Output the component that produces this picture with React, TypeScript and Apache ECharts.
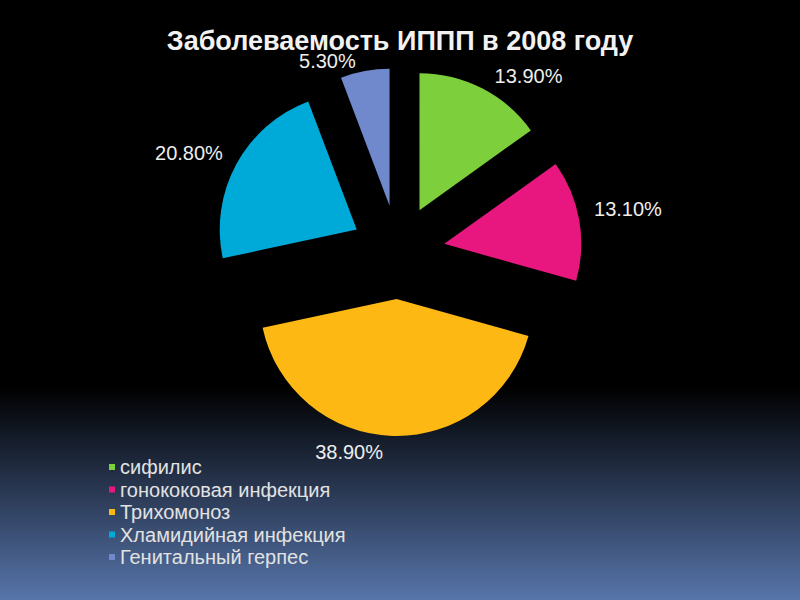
import React, { useEffect, useRef } from "react";
import * as echarts from "echarts";

const categories = [
  "сифилис",
  "гонококовая инфекция",
  "Трихомоноз",
  "Хламидийная инфекция",
  "Генитальный герпес",
];
const values = [13.9, 13.1, 38.9, 20.8, 5.3];
const colors = ["#7dcf3c", "#e8177f", "#fdb813", "#00aad8", "#7088cc"];
const labelShifts = [
  [2, -2],
  [-2, -9],
  [-4, 4],
  [2, -5],
  [-2, 2],
];
const titleText = "Заболеваемость ИППП в 2008 году";

export default function App() {
  const ref = useRef<HTMLDivElement>(null);
  useEffect(() => {
    if (!ref.current) return;
    const chart = echarts.init(ref.current, null, { renderer: "svg" });
    const font = "'Liberation Sans', Arial, sans-serif";
    chart.setOption({
      animation: false,
      backgroundColor: new echarts.graphic.LinearGradient(0, 0, 0, 1, [
        { offset: 0, color: "#000000" },
        { offset: 0.645, color: "#000000" },
        { offset: 0.8, color: "#25324a" },
        { offset: 1, color: "#5775aa" },
      ]),
      title: {
        text: titleText,
        left: "center",
        top: 22,
        textStyle: {
          color: "#f2f2f2",
          fontFamily: font,
          fontWeight: "bold",
          fontSize: 27,
        },
      },
      legend: {
        orient: "vertical",
        left: 104,
        top: 452,
        itemWidth: 6,
        itemHeight: 6,
        itemGap: 2.5,
        icon: "rect",
        selectedMode: false,
        textStyle: {
          color: "#e2e2e2",
          fontFamily: font,
          fontSize: 20,
          lineHeight: 20,
        },
        data: categories,
      },
      series: [
        {
          type: "pie",
          center: [398, 252],
          radius: 137,
          startAngle: 90,
          clockwise: true,
          selectedMode: "multiple",
          selectedOffset: 47,
          avoidLabelOverlap: false,
          label: {
            show: true,
            position: "outside",
            color: "#eeeeee",
            fontFamily: font,
            fontSize: 20,
            formatter: (p: any) => p.value.toFixed(2) + "%",
          },
          labelLine: { show: false, length: 12, length2: 0 },
          labelLayout: (p: any) => ({
            dx: labelShifts[p.dataIndex][0],
            dy: labelShifts[p.dataIndex][1],
          }),
          emphasis: { disabled: true },
          data: categories.map((name, i) => ({
            name,
            value: values[i],
            selected: true,
            itemStyle: { color: colors[i] },
          })),
        },
      ],
    });
    return () => chart.dispose();
  }, []);
  return (
    <div
      ref={ref}
      style={{ position: "fixed", left: 0, top: 0, width: 800, height: 600 }}
    />
  );
}
